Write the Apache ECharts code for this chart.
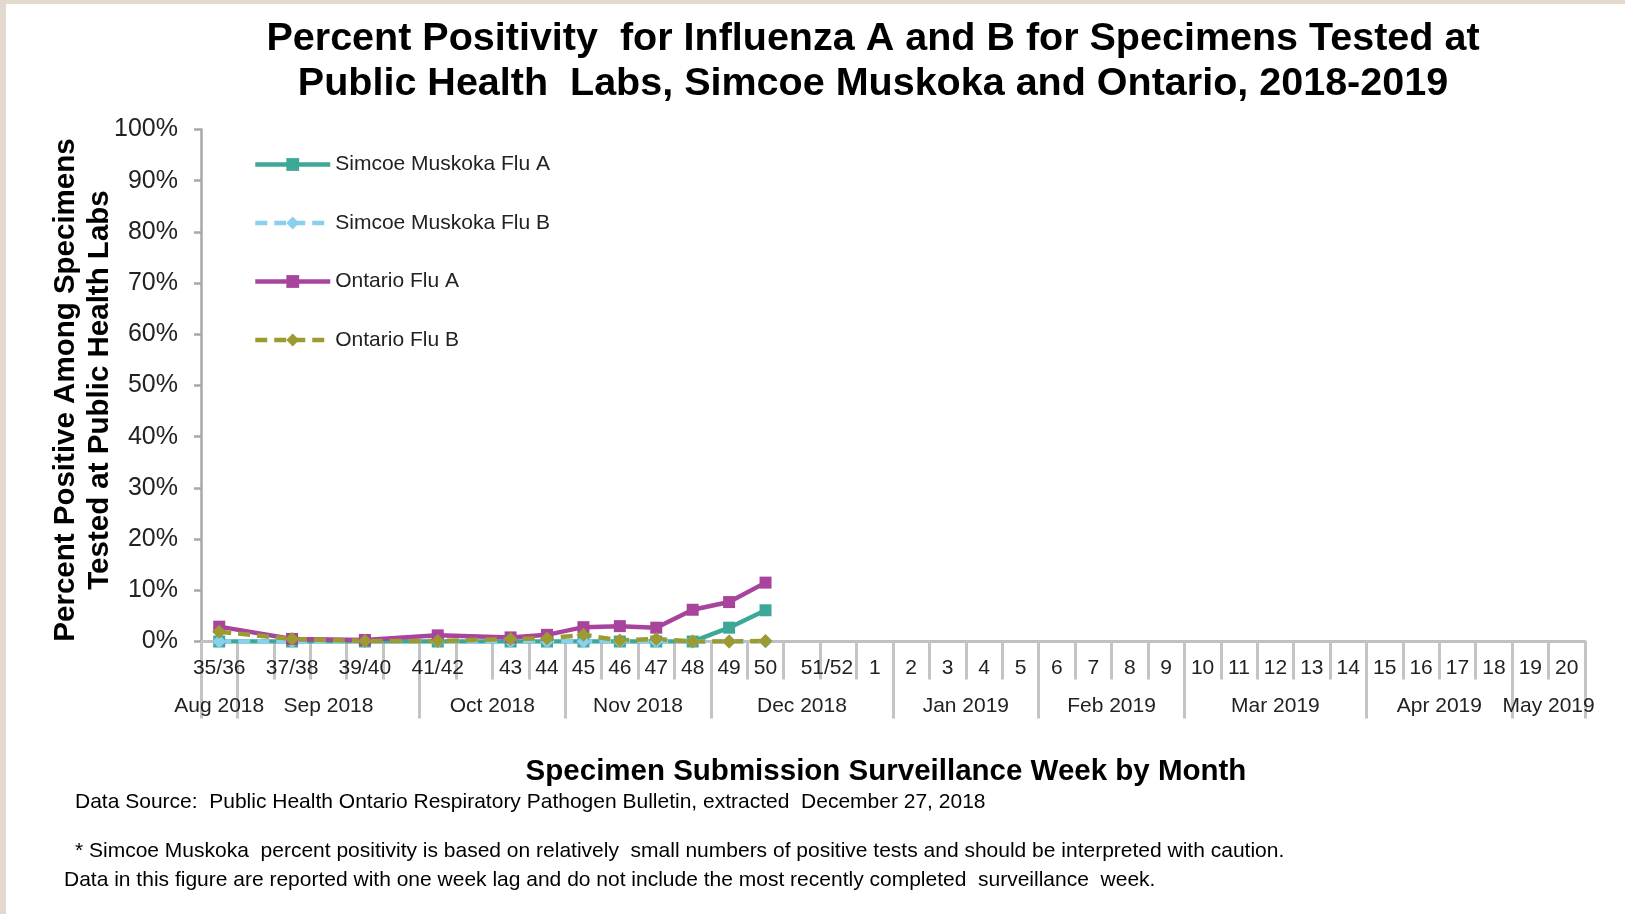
<!DOCTYPE html>
<html>
<head>
<meta charset="utf-8">
<script src="https://cdn.jsdelivr.net/npm/echarts@6/dist/echarts.min.js"></script>
<style>
html,body{margin:0;padding:0;background:#fff;}
#chart{width:1625px;height:914px;}
</style>
</head>
<body>
<div id="chart"></div>
<script>
// ---- data ----
const weeks = ['35','36','37','38','39','40','41','42','43','44','45','46','47','48','49','50','51','52',
  '1','2','3','4','5','6','7','8','9','10','11','12','13','14','15','16','17','18','19','20'];
const weekLabels = ['35/36','','37/38','','39/40','','41/42','','43','44','45','46','47','48','49','50','51/52','',
  '1','2','3','4','5','6','7','8','9','10','11','12','13','14','15','16','17','18','19','20'];
const monthLabels = ['Aug 2018','Sep 2018','Oct 2018','Nov 2018','Dec 2018','Jan 2019','Feb 2019','Mar 2019','Apr 2019','May 2019'];
const monthBounds = [0,1,6,10,14,19,23,27,32,36,38];
const simcoeFluA   = [0,null,0,null,0,null,0,null,0,0,0,0,0,0,2.7,6.1];
const simcoeFluB   = [0,null,0,null,0,null,0,null,0,0,0,0,0,0,0,0];
const ontarioFluA  = [2.9,null,0.5,null,0.3,null,1.2,null,0.8,1.3,2.8,3.0,2.7,6.2,7.7,11.5];
const ontarioFluB  = [1.9,null,0.5,null,0.1,null,0.1,null,0.5,0.6,1.3,0.2,0.5,0,0,0.1];
const yTicks = [0,10,20,30,40,50,60,70,80,90,100];

const FF = '"Liberation Sans", Arial, sans-serif';
const monthCenters = monthLabels.map((m,i)=>(monthBounds[i]+monthBounds[i+1])/2);

const chart = echarts.init(document.getElementById('chart'));

function txt(text, x, y, font, align, rotation) {
  const el = {
    type:'text', x:x, y:y, silent:true,
    style:{text:text, font:font, fill:'#000', align:align, textAlign:align,
      verticalAlign:'middle', textVerticalAlign:'middle'}
  };
  if (rotation) el.rotation = rotation;
  return el;
}

const lineSeries = (name, data, color, dashed) => ({
  type:'line', name:name, data:data, connectNulls:true,
  symbol: dashed ? 'diamond' : 'rect',
  symbolSize: dashed ? 14 : 12,
  lineStyle:{width:4.5, color:color, type: dashed ? [12,7] : 'solid'},
  itemStyle:{color:color},
  xAxisIndex:0, yAxisIndex:0
});

chart.setOption({
  animation:false,
  backgroundColor:'#fff',
  grid:{left:201, right:40, top:129.5, bottom:272.5, containLabel:false},
  legend:{
    orient:'vertical', left:248, top:149, itemWidth:75, itemHeight:16, itemGap:37.5,
    lineStyle:{width:4.5},
    textStyle:{fontSize:21, color:'#222', fontFamily:FF},
    data:['Simcoe Muskoka Flu A','Simcoe Muskoka Flu B','Ontario Flu A','Ontario Flu B']
  },
  xAxis:[
    {
      type:'category', data:weeks, boundaryGap:true, position:'bottom',
      axisLine:{lineStyle:{color:'#c0c0c0', width:3}},
      axisTick:{show:true, interval:0, length:38, lineStyle:{color:'#c4c4c4', width:3}},
      axisLabel:{
        interval:0, margin:16, fontSize:21, color:'#222', fontFamily:FF,
        formatter:(v,i)=> i===16 ? '{s|'+weekLabels[i]+'}' : weekLabels[i],
        rich:{s:{fontSize:21, color:'#222', fontFamily:FF, padding:[0,0,0,50]}}
      },
      splitLine:{show:false}
    },
    {
      type:'value', min:0, max:38, position:'bottom',
      axisLine:{show:false},
      axisTick:{show:true, customValues:monthBounds, length:77, lineStyle:{color:'#c4c4c4', width:3}},
      axisLabel:{
        customValues:monthCenters, margin:54, fontSize:21, color:'#222', fontFamily:FF,
        formatter:(v)=>{ const k = monthCenters.indexOf(v); return k>=0 ? monthLabels[k] : ''; }
      },
      splitLine:{show:false}
    }
  ],
  yAxis:{
    type:'value', min:0, max:100, interval:10,
    axisLine:{show:true, lineStyle:{color:'#a8a8a8', width:2.5}},
    axisTick:{show:true, length:7, lineStyle:{color:'#a8a8a8', width:2.5}},
    axisLabel:{margin:23, fontSize:25, color:'#222', fontFamily:FF,
      formatter:(v)=> yTicks.indexOf(v)>=0 ? v+'%' : ''},
    splitLine:{show:false}
  },
  series:[
    lineSeries('Simcoe Muskoka Flu A', simcoeFluA, '#3DA897', false),
    lineSeries('Simcoe Muskoka Flu B', simcoeFluB, '#8BCFEE', true),
    lineSeries('Ontario Flu A', ontarioFluA, '#A8449C', false),
    lineSeries('Ontario Flu B', ontarioFluB, '#9C9A30', true)
  ],
  graphic:[
    {type:'rect', shape:{x:0,y:0,width:1625,height:4}, style:{fill:'#e4d9ce'}, silent:true},
    {type:'rect', shape:{x:0,y:0,width:6,height:914}, style:{fill:'#e4d9ce'}, silent:true},
    txt('Percent Positivity  for Influenza A and B for Specimens Tested at', 873, 39, 'bold 39.5px '+FF, 'center'),
    txt('Public Health  Labs, Simcoe Muskoka and Ontario, 2018-2019', 873, 84, 'bold 39.5px '+FF, 'center'),
    txt('Percent Positive Among Specimens', 66, 390, 'bold 29.5px '+FF, 'center', Math.PI/2),
    txt('Tested at Public Health Labs', 99.5, 390, 'bold 29.5px '+FF, 'center', Math.PI/2),
    txt('Specimen Submission Surveillance Week by Month', 886, 772, 'bold 29.5px '+FF, 'center'),
    txt('Data Source:  Public Health Ontario Respiratory Pathogen Bulletin, extracted  December 27, 2018', 75, 802, '21px '+FF, 'left'),
    txt('* Simcoe Muskoka  percent positivity is based on relatively  small numbers of positive tests and should be interpreted with caution.', 75, 851, '21px '+FF, 'left'),
    txt('Data in this figure are reported with one week lag and do not include the most recently completed  surveillance  week.', 64, 880, '21px '+FF, 'left')
  ]
});
</script>
</body>
</html>
